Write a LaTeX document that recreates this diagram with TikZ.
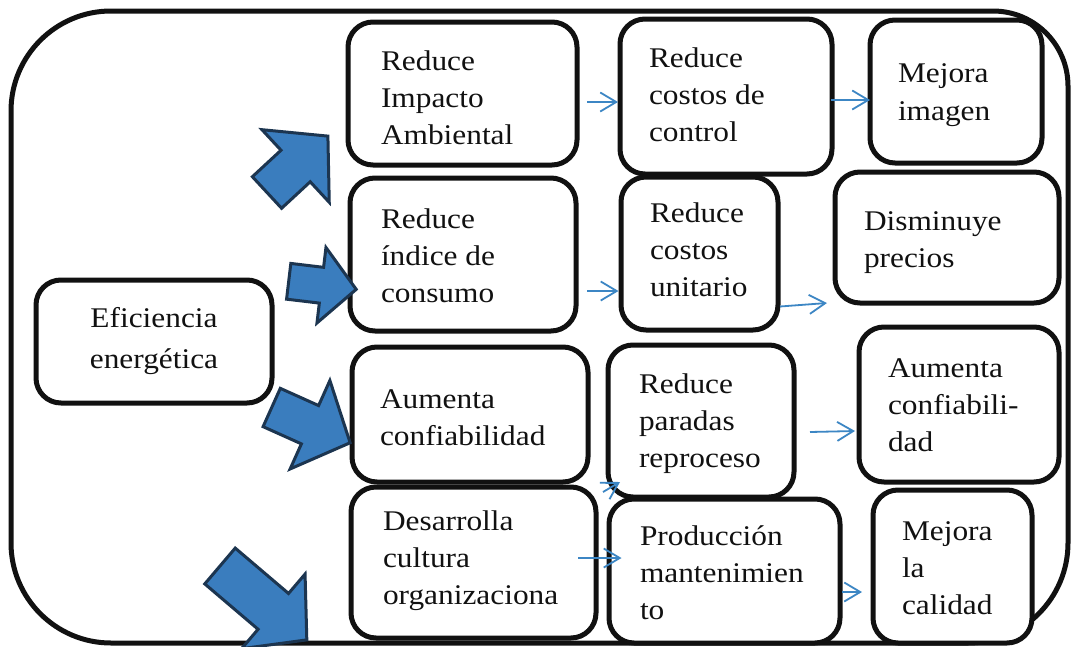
\documentclass[tikz,border=0pt]{standalone}
\usepackage{fontspec}
\setmainfont{Liberation Serif}[FakeStretch=1.1]
\usetikzlibrary{arrows.meta,calc}
\definecolor{arrowfill}{HTML}{3A7DBE}
\definecolor{arrowedge}{HTML}{1C3550}
\definecolor{linkblue}{HTML}{3C86C4}
\definecolor{ink}{HTML}{111111}
\tikzset{
  framestyle/.style={draw=ink,line width=5pt},
  boxnode/.style={draw=ink,line width=5pt,rounded corners=25pt,fill=white,inner sep=0pt,outer sep=0pt},
  txtnode/.style={inner sep=0pt,outer sep=0pt,font=\fontsize{28.5}{37}\selectfont,text=ink},
  bigarrowstyle/.style={fill=arrowfill,draw=arrowedge,line width=3pt,line join=miter},
  linkarrow/.style={draw=linkblue,line width=1.8pt,-{Straight Barb[length=16pt,width=19pt]}},
  pics/fatarrow/.style n args={4}{code={
    \path[bigarrowstyle] (0,-#3) -- ({#1-#2},-#3) -- ({#1-#2},-#4) -- (#1,0)
      -- ({#1-#2},#4) -- ({#1-#2},#3) -- (0,#3) -- cycle;
  }}
}
\begin{document}
\begin{tikzpicture}[x=1pt,y=-1pt]
\useasboundingbox (0,0) rectangle (1071,646);
\fill[white] (0,0) rectangle (1071,646);
% outer frame
\draw[framestyle] (11,300) -- (11,111) .. controls (11,55.8) and (55.8,11) .. (111,11)
  -- (993,11) .. controls (1034.4,11) and (1068,44.6) .. (1068,86)
  -- (1068,543) .. controls (1068,598.2) and (1023.2,643) .. (968,643)
  -- (111,643) .. controls (55.8,643) and (11,598.2) .. (11,543) -- cycle;
% boxes
\node[boxnode,minimum width=236pt,minimum height=123pt] (b0) at (154,341.5) {};
\node[boxnode,minimum width=229pt,minimum height=143pt] (b11) at (462.5,93.5) {};
\node[boxnode,minimum width=212pt,minimum height=155pt] (b12) at (726,96.5) {};
\node[boxnode,minimum width=172pt,minimum height=143pt] (b13) at (956,91.5) {};
\node[boxnode,minimum width=226pt,minimum height=153pt] (b21) at (463,254.5) {};
\node[boxnode,minimum width=157pt,minimum height=153pt] (b22) at (699.5,253.5) {};
\node[boxnode,minimum width=224pt,minimum height=131pt] (b23) at (947,237.5) {};
\node[boxnode,minimum width=236pt,minimum height=135pt] (b31) at (470,414.5) {};
\node[boxnode,minimum width=186pt,minimum height=152pt] (b32) at (701,421) {};
\node[boxnode,minimum width=200pt,minimum height=155pt] (b33) at (959,404.5) {};
\node[boxnode,minimum width=245pt,minimum height=151pt] (b41) at (473.5,562.5) {};
\node[boxnode,minimum width=231pt,minimum height=144pt] (b42) at (724.5,571) {};
\node[boxnode,minimum width=159pt,minimum height=153pt] (b43) at (952.5,566.5) {};
% texts
\node[txtnode,anchor=base,font=\fontsize{28.5}{41}\selectfont] (t0) at (154,327) {\begin{tabular}[t]{@{}c@{}}Eficiencia\\energética\end{tabular}};
\node[txtnode,anchor=base west] (t11) at (381,70) {\begin{tabular}[t]{@{}l@{}}Reduce\\Impacto\\Ambiental\end{tabular}};
\node[txtnode,anchor=base west] (t12) at (649,67) {\begin{tabular}[t]{@{}l@{}}Reduce\\costos de\\control\end{tabular}};
\node[txtnode,anchor=base west,font=\fontsize{28.5}{38}\selectfont] (t13) at (898,82) {\begin{tabular}[t]{@{}l@{}}Mejora\\imagen\end{tabular}};
\node[txtnode,anchor=base west] (t21) at (381,228) {\begin{tabular}[t]{@{}l@{}}Reduce\\índice de\\consumo\end{tabular}};
\node[txtnode,anchor=base west] (t22) at (650,222) {\begin{tabular}[t]{@{}l@{}}Reduce\\costos\\unitario\end{tabular}};
\node[txtnode,anchor=base west] (t23) at (864,230) {\begin{tabular}[t]{@{}l@{}}Disminuye\\precios\end{tabular}};
\node[txtnode,anchor=base west] (t31) at (380,408) {\begin{tabular}[t]{@{}l@{}}Aumenta\\confiabilidad\end{tabular}};
\node[txtnode,anchor=base west] (t32) at (639,393) {\begin{tabular}[t]{@{}l@{}}Reduce\\paradas\\reproceso\end{tabular}};
\node[txtnode,anchor=base west] (t33) at (888,377) {\begin{tabular}[t]{@{}l@{}}Aumenta\\confiabili-\\dad\end{tabular}};
\node[txtnode,anchor=base west] (t41) at (383,530) {\begin{tabular}[t]{@{}l@{}}Desarrolla\\cultura\\organizaciona\end{tabular}};
\node[txtnode,anchor=base west] (t42) at (640,545) {\begin{tabular}[t]{@{}l@{}}Producción\\mantenimien\\to\end{tabular}};
\node[txtnode,anchor=base west] (t43) at (902,540) {\begin{tabular}[t]{@{}l@{}}Mejora\\la\\calidad\end{tabular}};
% block arrows
\pic[rotate=42.8] at (267,192.5) {fatarrow={83}{44}{21.5}{49.5}};
\pic[rotate=-6.8] at (288.7,281.3) {fatarrow={68}{35}{18}{38}};
\pic[rotate=-24.2] at (271.7,407.5) {fatarrow={86}{44}{21}{48.5}};
\pic[rotate=-40.4] at (220,566) {fatarrow={114}{44}{23.5}{49}};
% thin connectors
\draw[linkarrow] ([shift={(10,8.5)}]b11.east) -- ([shift={(-2,5.5)}]b12.west);
\draw[linkarrow] ([shift={(-1,3.5)}]b12.east) -- ([shift={(0,8.5)}]b13.west);
\draw[linkarrow] ([shift={(11,36.5)}]b21.east) -- ([shift={(-2.5,37.5)}]b22.west);
\draw[linkarrow] ([shift={(2,53)}]b22.east) -- ([shift={(-8,65.5)}]b23.west);
\draw[linkarrow] ([shift={(16,11)}]b32.east) -- ([shift={(-4,26.5)}]b33.west);
\draw[linkarrow] ([shift={(15,10)}]b31.south east) -- ([shift={(12,-15)}]b32.south west);
\draw[linkarrow] ([shift={(-18,-4.5)}]b41.east) -- ([shift={(12.5,-13)}]b42.west);
\draw[linkarrow] ([shift={(2,21)}]b42.east) -- ([shift={(-11,25.5)}]b43.west);
\end{tikzpicture}
\end{document}
